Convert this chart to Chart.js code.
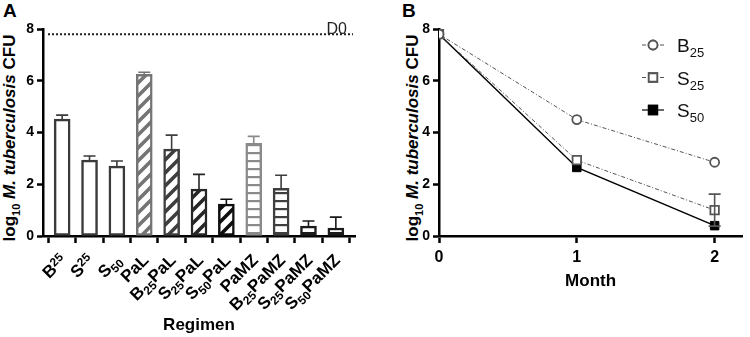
<!DOCTYPE html>
<html>
<head>
<meta charset="utf-8">
<script src="https://cdn.jsdelivr.net/npm/chart.js@4.4.1/dist/chart.umd.min.js"></script>
<style>
  body { margin: 0; width: 750px; height: 337px; position: relative; background: #fff; overflow: hidden;
         font-family: "Liberation Sans", Arial, sans-serif; }
  canvas { position: absolute; top: 0; }
  #chartA { left: 0; }
  #chartB { left: 380px; }
  .panel { position: absolute; font-weight: bold; font-size: 19px; }
  .ytitle { position: absolute; font-weight: bold; font-size: 17px; white-space: nowrap;
            transform: translate(-50%, -50%) rotate(-90deg); }
  .ytitle sub { font-size: 11px; }
</style>
</head>
<body>
<div class="panel" style="left:3px;top:0px">A</div>
<div class="panel" style="left:402px;top:0px">B</div>
<div class="ytitle" style="left:11px;top:138px">log<sub>10</sub> <i>M. tuberculosis</i> CFU</div>
<div class="ytitle" style="left:414px;top:138px">log<sub>10</sub> <i>M. tuberculosis</i> CFU</div>
<canvas id="chartA" width="380" height="337"></canvas>
<canvas id="chartB" width="370" height="337"></canvas>
<script>
// panel A: CFU after 2 months per regimen
const regimens = ['B²⁵', 'S²⁵', 'S₅₀', 'PaL', 'B₂₅PaL', 'S₂₅PaL', 'S₅₀PaL', 'PaMZ', 'B₂₅PaMZ', 'S₂₅PaMZ', 'S₅₀PaMZ']
const meanCFU = [4.52, 2.93, 2.70, 6.25, 3.36, 1.81, 1.23, 3.58, 1.84, 0.38, 0.31]
const sdCFU = [0.15, 0.16, 0.20, 0.08, 0.54, 0.57, 0.19, 0.27, 0.51, 0.20, 0.42]
const day0CFU = 7.8

// panel B: CFU over time
const months = [0, 1, 2]
const cfuB25 = [7.8, 4.5, 2.85]
const cfuS25 = [7.8, 2.93, 1.0]
const cfuS50 = [7.8, 2.65, 0.4]
const sdS25 = [0, 0, 0.62]

const yTicks = [0, 2, 4, 6, 8]

// fill style of each regimen bar
const barKinds = ['plain', 'plain', 'plain', 'diag', 'diag', 'diag', 'diag', 'horiz', 'horiz', 'horiz', 'horiz']
const barColors = ['#3a3a3a', '#3a3a3a', '#3a3a3a', '#747474', '#3e3e3e', '#262626', '#0e0e0e', '#8a8a8a', '#3e3e3e', '#1a1a1a', '#1a1a1a']

const FONT = '"Liberation Sans", Arial, sans-serif'

function makePattern(kind, color) {
    if (kind === 'plain') return '#fff'
    const c = document.createElement('canvas')
    const ctx = c.getContext('2d')
    if (kind === 'diag') {
        const t = 13
        c.width = t; c.height = t
        ctx.fillStyle = '#fff'; ctx.fillRect(0, 0, t, t)
        ctx.strokeStyle = color; ctx.lineWidth = 3.6
        ctx.beginPath()
        ctx.moveTo(-2, t + 2); ctx.lineTo(t + 2, -2)
        ctx.moveTo(-2, 2); ctx.lineTo(2, -2)
        ctx.moveTo(t - 2, t + 2); ctx.lineTo(t + 2, t - 2)
        ctx.stroke()
    } else {
        c.width = 4; c.height = 8
        ctx.fillStyle = '#fff'; ctx.fillRect(0, 0, 4, 8)
        ctx.fillStyle = color; ctx.fillRect(0, 0, 4, 2.2)
    }
    return ctx.createPattern(c, 'repeat')
}

// split a label into normal / sub / sup runs
const SUB = '₀₁₂₃₄₅₆₇₈₉', SUP = '⁰¹²³⁴⁵⁶⁷⁸⁹'
function splitLabel(s) {
    const runs = []
    for (const ch of s) {
        let kind = 'n', c = ch
        if (SUB.includes(ch)) { kind = 'sub'; c = String(SUB.indexOf(ch)) }
        else if (SUP.includes(ch)) { kind = 'sup'; c = String([...SUP].indexOf(ch)) }
        const last = runs[runs.length - 1]
        if (last && last.kind === kind) last.text += c
        else runs.push({ kind, text: c })
    }
    return runs
}

const axisFont = { family: FONT, weight: 'bold', size: 14 }

function yAxis(width) {
    return {
        min: 0, max: 8,
        afterBuildTicks: s => { s.ticks = yTicks.map(v => ({ value: v })) },
        afterFit: s => { s.width = width },
        ticks: { color: '#000', font: axisFont, padding: 3 },
        grid: { drawOnChartArea: false, tickLength: 6, tickWidth: 2.5, tickColor: '#000' },
        border: { color: '#000', width: 2.5 }
    }
}

// rotated regimen labels with real sub/superscripts
const regimenLabels = {
    id: 'regimenLabels',
    afterDraw(chart) {
        const {ctx, scales: {x}} = chart
        ctx.save()
        ctx.fillStyle = '#000'
        ctx.textBaseline = 'alphabetic'
        regimens.forEach((lab, i) => {
            const runs = splitLabel(lab)
            const sizes = runs.map(r => r.kind === 'n' ? 17 : 12)
            const widths = runs.map((r, k) => { ctx.font = `bold ${sizes[k]}px ${FONT}`; return ctx.measureText(r.text).width })
            const total = widths.reduce((a, b) => a + b, 0)
            const px = x.getPixelForValue(i)
            ctx.save()
            ctx.translate(px + 1, x.top + 21)
            ctx.rotate(-Math.PI / 4)
            let cx = -total
            runs.forEach((r, k) => {
                ctx.font = `bold ${sizes[k]}px ${FONT}`
                const dy = r.kind === 'sub' ? 4 : r.kind === 'sup' ? -5 : 0
                ctx.fillText(r.text, cx, 6 + dy)
                cx += widths[k]
            })
            ctx.restore()
        })
        ctx.restore()
    }
}

// error bars, D0 line, legend
const errorBars = {
    id: 'errorBars',
    afterDatasetsDraw(chart, args, opts) {
        if (!opts.mean) return
        const {ctx, scales: {x, y}} = chart
        ctx.save()
        ctx.lineWidth = 1.6
        opts.mean.forEach((m, i) => {
            const sd = opts.sd[i]
            if (!sd) return
            const px = x.getPixelForValue(opts.xs[i])
            const top = y.getPixelForValue(m + sd)
            const bot = y.getPixelForValue(opts.both ? m - sd : m)
            ctx.strokeStyle = opts.colors[i]
            ctx.beginPath()
            ctx.moveTo(px, bot); ctx.lineTo(px, top)
            ctx.moveTo(px - 6, top); ctx.lineTo(px + 6, top)
            if (opts.both) { ctx.moveTo(px - 6, bot); ctx.lineTo(px + 6, bot) }
            ctx.stroke()
        })
        ctx.restore()
    }
}

const day0Line = {
    id: 'day0Line',
    afterDatasetsDraw(chart) {
        const {ctx, scales: {x, y}} = chart
        const py = y.getPixelForValue(day0CFU)
        ctx.save()
        ctx.strokeStyle = '#222'
        ctx.lineWidth = 2
        ctx.setLineDash([2, 2])
        ctx.beginPath()
        ctx.moveTo(x.left + 5, py); ctx.lineTo(x.right - 2, py)
        ctx.stroke()
        ctx.setLineDash([])
        ctx.fillStyle = '#222'
        ctx.font = `16px ${FONT}`
        ctx.textAlign = 'right'
        ctx.textBaseline = 'alphabetic'
        ctx.fillText('D0', x.right - 8, py)
        ctx.restore()
    }
}

new Chart(document.getElementById('chartA'), {
    type: 'bar',
    data: {
        datasets: [{
            data: meanCFU.map((v, i) => ({ x: i, y: v })),
            backgroundColor: barKinds.map((k, i) => makePattern(k, barColors[i])),
            borderColor: barColors,
            borderWidth: 2.5,
            borderSkipped: false,
            barThickness: 16
        }]
    },
    options: {
        responsive: false,
        animation: false,
        layout: { padding: { top: 29, right: 25, left: 0, bottom: 0 } },
        plugins: {
            legend: { display: false },
            tooltip: { enabled: false },
            errorBars: { mean: meanCFU, sd: sdCFU, xs: regimens.map((r, i) => i), colors: barColors }
        },
        scales: {
            x: {
                type: 'linear', min: -0.7, max: 10.7, offset: false,
                afterBuildTicks: s => { s.ticks = regimens.map((r, i) => ({ value: i })) },
                afterFit: s => { s.height = 101 },
                ticks: { display: false },
                grid: { drawOnChartArea: false, tickLength: 7, tickWidth: 2.5, tickColor: '#000' },
                border: { color: '#000', width: 2.5 },
                title: { display: true, text: 'Regimen', color: '#000',
                         font: { family: FONT, weight: 'bold', size: 17 },
                         padding: { top: 0, bottom: 1 } }
            },
            y: yAxis(43)
        }
    },
    plugins: [errorBars, day0Line, regimenLabels]
})

// legend sample for panel B
const legendItems = [
    { main: 'B', sub: '25', style: 'circle', fill: '#fff', color: '#555', dash: [4, 2, 1, 2] },
    { main: 'S', sub: '25', style: 'rect', fill: '#fff', color: '#555', dash: [4, 2, 1, 2] },
    { main: 'S', sub: '50', style: 'rect', fill: '#000', color: '#000', dash: [] }
]

const lineLegend = {
    id: 'lineLegend',
    afterDraw(chart) {
        const ctx = chart.ctx
        ctx.save()
        legendItems.forEach((it, i) => {
            const cy = 45 + i * 32.5
            const x0 = 262
            ctx.strokeStyle = it.color
            ctx.lineWidth = 1.2
            ctx.setLineDash(it.dash)
            ctx.beginPath()
            ctx.moveTo(x0, cy); ctx.lineTo(x0 + 22, cy)
            ctx.stroke()
            ctx.setLineDash([])
            ctx.fillStyle = it.fill
            ctx.lineWidth = 1.8
            Chart.helpers.drawPoint(ctx, { pointStyle: it.style, radius: it.style === 'circle' ? 4.5 : 6, borderWidth: 1.8 }, x0 + 11, cy)
            ctx.fill()
            ctx.stroke()
            ctx.fillStyle = '#111'
            ctx.textBaseline = 'alphabetic'
            ctx.font = `19px ${FONT}`
            ctx.fillText(it.main, x0 + 35, cy + 7)
            const w = ctx.measureText(it.main).width
            ctx.font = `13px ${FONT}`
            ctx.fillText(it.sub, x0 + 35 + w, cy + 12)
        })
        ctx.restore()
    }
}

new Chart(document.getElementById('chartB'), {
    type: 'line',
    data: {
        datasets: [
            { label: 'B25', data: months.map((m, i) => ({ x: m, y: cfuB25[i] })),
              borderColor: '#555', borderWidth: 1, borderDash: [4, 2, 1, 2],
              pointStyle: 'circle', pointRadius: 4.5, pointBackgroundColor: '#fff',
              pointBorderColor: '#555', pointBorderWidth: 1.8 },
            { label: 'S25', data: months.map((m, i) => ({ x: m, y: cfuS25[i] })),
              borderColor: '#555', borderWidth: 1, borderDash: [4, 2, 1, 2],
              pointStyle: 'rect', pointRadius: 6, pointBackgroundColor: '#fff',
              pointBorderColor: '#555', pointBorderWidth: 1.8 },
            { label: 'S50', data: months.map((m, i) => ({ x: m, y: cfuS50[i] })),
              borderColor: '#000', borderWidth: 1.5,
              pointStyle: 'rect', pointRadius: 6, pointBackgroundColor: '#000',
              pointBorderColor: '#000', pointBorderWidth: 1 }
        ]
    },
    options: {
        responsive: false,
        animation: false,
        layout: { padding: { top: 29, right: 0, left: 0, bottom: 0 } },
        plugins: {
            legend: { display: false },
            tooltip: { enabled: false },
            errorBars: { mean: cfuS25, sd: sdS25, xs: months, colors: ['#555', '#555', '#555'], both: true }
        },
        scales: {
            x: {
                type: 'linear', min: 0, max: 2.2,
                afterBuildTicks: s => { s.ticks = months.map(v => ({ value: v })) },
                afterFit: s => { s.height = 101 },
                ticks: { color: '#000', font: { ...axisFont, size: 16 }, padding: 5 },
                grid: { drawOnChartArea: false, tickLength: 7, tickWidth: 2.5, tickColor: '#000' },
                border: { color: '#000', width: 2.5 },
                title: { display: true, text: 'Month', color: '#000',
                         font: { family: FONT, weight: 'bold', size: 17 },
                         padding: { top: 0, bottom: 45 } }
            },
            y: yAxis(59)
        }
    },
    plugins: [errorBars, lineLegend]
})
</script>
</body>
</html>
